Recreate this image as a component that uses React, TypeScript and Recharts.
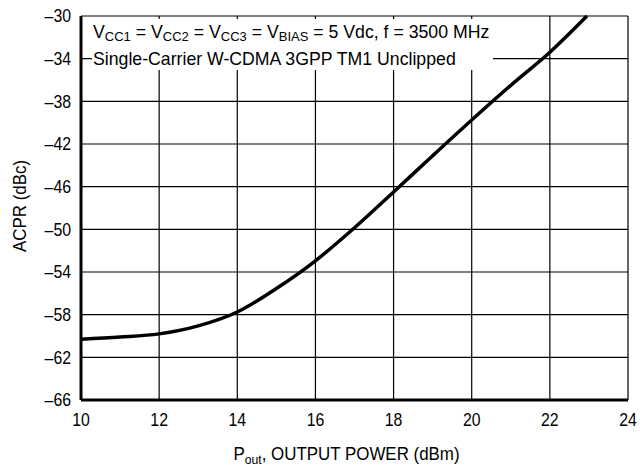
import { LineChart, Line, XAxis, YAxis, CartesianGrid } from 'recharts';

// Pout (dBm) and ACPR (dBc)
const pout = [10, 11, 12, 13, 14, 15, 16, 17, 18, 19, 20, 21, 22, 22.95];
const acpr = [-60.3, -60.1, -59.8, -59.05, -57.75, -55.55, -52.95, -49.85, -46.5, -43.1, -39.75, -36.5, -33.4, -30];

const xTicks = [10, 12, 14, 16, 18, 20, 22, 24];
const yTicks = [-66, -62, -58, -54, -50, -46, -42, -38, -34, -30];

const noteLine1 = [
  ['V', 'CC1'],
  [' = V', 'CC2'],
  [' = V', 'CC3'],
  [' = V', 'BIAS'],
  [' = 5 Vdc, f = 3500 MHz', ''],
];
const noteLine2 = 'Single-Carrier W-CDMA 3GPP TM1 Unclipped';
const yLabel = 'ACPR (dBc)';

const font = '"Liberation Sans", Arial, Helvetica, sans-serif';

const data = pout.map((p, i) => ({ pout: p, acpr: acpr[i] }));

const dash = (v: number) => String(v).replace('-', '\u2013');

// narrow-looking tick text, squeezed horizontally
function Tick(props: any) {
  const { x, y, payload, textAnchor, dy } = props;
  return (
    <g transform={`translate(${x},${y}) scale(0.88,1)`}>
      <text x={0} y={0} dy={dy} textAnchor={textAnchor} fontSize={18} fontFamily={font} fill="#000">
        {dash(payload.value)}
      </text>
    </g>
  );
}

function XTick(props: any) {
  return <Tick {...props} textAnchor="middle" dy="0.71em" />;
}

function YTick(props: any) {
  return <Tick {...props} textAnchor="end" dy="0.355em" />;
}

function XLabel(props: any) {
  const { viewBox } = props;
  const cx = viewBox.x + viewBox.width / 2;
  return (
    <g transform={`translate(${cx - 8},${viewBox.y + 60}) scale(0.94,1)`}>
      <text x={0} y={0} textAnchor="middle" fontSize={18} fontFamily={font} fill="#000">
        P<tspan fontSize={13} dy={4}>out</tspan>
        <tspan dy={-4}>, OUTPUT POWER (dBm)</tspan>
      </text>
    </g>
  );
}

function YLabel(props: any) {
  const { viewBox } = props;
  const cy = viewBox.y + viewBox.height / 2;
  return (
    <g transform={`translate(26,${cy - 2}) rotate(-90) scale(0.94,1)`}>
      <text x={0} y={0} textAnchor="middle" fontSize={18} fontFamily={font} fill="#000">
        {yLabel}
      </text>
    </g>
  );
}

export default function App() {
  return (
    <div style={{ position: 'absolute', left: 0, top: 0, width: 640, height: 466, background: '#fff' }}>
      <LineChart
        width={640}
        height={466}
        data={data}
        margin={{ top: 16, right: 12, bottom: 0, left: 0 }}
      >
        <CartesianGrid stroke="#000" strokeWidth={1.2} />
        <XAxis
          dataKey="pout"
          type="number"
          domain={[10, 24]}
          ticks={xTicks}
          interval={0}
          height={66}
          tickLine={false}
          tickMargin={7}
          axisLine={{ stroke: '#000', strokeWidth: 3 }}
          tick={<XTick />}
          label={<XLabel />}
        />
        <YAxis
          type="number"
          domain={[-66, -30]}
          ticks={yTicks}
          interval={0}
          width={81}
          tickLine={false}
          tickMargin={4}
          axisLine={{ stroke: '#000', strokeWidth: 3 }}
          tick={<YTick />}
          label={<YLabel />}
        />
        <Line
          type="monotone"
          dataKey="acpr"
          stroke="#000"
          strokeWidth={3.5}
          dot={false}
          isAnimationActive={false}
        />
      </LineChart>
      <div
        style={{
          position: 'absolute',
          left: 92,
          top: 19,
          width: 401,
          height: 51,
          background: '#fff',
          fontFamily: font,
          fontSize: 17.7,
          color: '#000',
          whiteSpace: 'nowrap',
        }}
      >
        <div style={{ position: 'absolute', left: 1, top: 3, lineHeight: '20px' }}>
          {noteLine1.map(([main, sub], i) => (
            <span key={i}>
              {main}
              {sub && <sub style={{ fontSize: 13, verticalAlign: -3 }}>{sub}</sub>}
            </span>
          ))}
        </div>
        <div style={{ position: 'absolute', left: 1, top: 30, lineHeight: '20px' }}>{noteLine2}</div>
      </div>
    </div>
  );
}
